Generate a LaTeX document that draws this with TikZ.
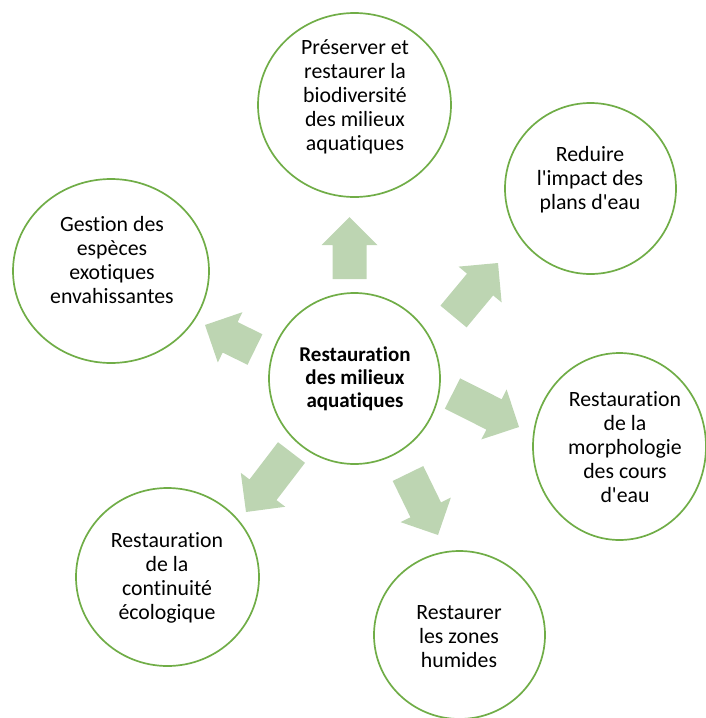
\documentclass[tikz,border=0pt]{standalone}
\usepackage{fontspec}
\setmainfont{Carlito}[Ligatures={TeXOff,NoCommon}]
\usetikzlibrary{shapes.geometric,calc}
\definecolor{ringgreen}{RGB}{112,173,71}
\definecolor{arrowgreen}{RGB}{189,213,178}
\tikzset{
  ring/.style={ellipse, draw=ringgreen, line width=1.7pt, inner sep=0pt, fill=white},
  txt/.style={align=center, inner sep=0pt, font=\fontsize{21.8}{24}\selectfont},
  ctxt/.style={align=center, inner sep=0pt, font=\bfseries\fontsize{21}{23}\selectfont},
}
% block arrow from base midpoint #1 to tip #2
\newcommand{\blkarrow}[2]{%
  \coordinate (#1-h) at ($(#2)!28pt!(#1)$);
  \fill[arrowgreen]
    ($(#1)!17pt!90:(#2)$) --
    ($(#1-h)!17pt!90:(#2)$) --
    ($(#1-h)!28pt!90:(#2)$) --
    (#2) --
    ($(#1-h)!28pt!-90:(#2)$) --
    ($(#1-h)!17pt!-90:(#2)$) --
    ($(#1)!17pt!-90:(#2)$) -- cycle;
}
\begin{document}
\begin{tikzpicture}[x=1pt,y=-1pt]
\useasboundingbox (0,0) rectangle (705,718);

% circles
\node[ring, minimum width=193pt, minimum height=184pt] (ctop) at (354.5,105) {};
\node[ring, minimum width=171pt, minimum height=171pt] (ctr) at (590.5,188.5) {};
\node[ring, minimum width=196pt, minimum height=184pt] (cleft) at (111,271) {};
\node[ring, minimum width=171pt, minimum height=171pt] (cmid) at (354.5,378.5) {};
\node[ring, minimum width=173pt, minimum height=187pt] (cright) at (619.5,446.5) {};
\node[ring, minimum width=171pt, minimum height=168pt] (cbot) at (459.5,635) {};
\node[ring, minimum width=183pt, minimum height=178pt] (cbl) at (167.5,577) {};

% texts
\node[txt] (ttop) at (355,97) {Préserver et\\restaurer la\\biodiversité\\des milieux\\aquatiques};
\node[txt] (ttr) at (590,180) {Reduire\\l'impact des\\plans d'eau};
\node[txt] (tleft) at (112,260) {Gestion des\\espèces\\exotiques\\envahissantes};
\node[ctxt] (tmid) at (355,379) {Restauration\\des milieux\\aquatiques};
\node[txt] (tright) at (625,447) {Restauration\\de la\\morphologie\\des cours\\d'eau};
\node[txt] (tbot) at (459,637) {Restaurer\\les zones\\humides};
\node[txt] (tbl) at (167,578) {Restauration\\de la\\continuité\\écologique};

% arrow anchor coordinates
\coordinate (aup) at (349.5,279);   \coordinate (aupt) at (349.5,217);
\coordinate (aur) at (453.5,316.5); \coordinate (aurt) at (498,263);
\coordinate (ar) at (452.5,393.5);  \coordinate (art) at (519,427);
\coordinate (adr) at (408,473.5);   \coordinate (adrt) at (438,535);
\coordinate (adl) at (291.5,452.5); \coordinate (adlt) at (246,512);
\coordinate (aul) at (255,349.5);   \coordinate (ault) at (205,325);

\blkarrow{aup}{aupt}
\blkarrow{aur}{aurt}
\blkarrow{ar}{art}
\blkarrow{adr}{adrt}
\blkarrow{adl}{adlt}
\blkarrow{aul}{ault}
\end{tikzpicture}
\end{document}
